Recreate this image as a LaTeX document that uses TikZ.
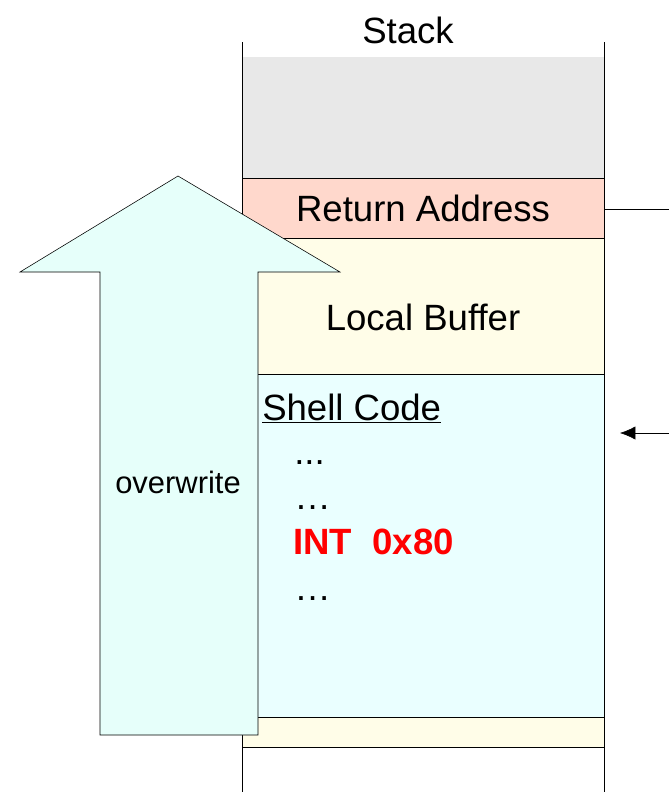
\documentclass[tikz,border=0pt]{standalone}
\usepackage{fontspec}
\setmainfont{Liberation Sans}
\usetikzlibrary{positioning, arrows.meta}
\definecolor{stackgray}{RGB}{232,232,232}
\definecolor{retpink}{RGB}{255,216,204}
\definecolor{bufyellow}{RGB}{255,253,232}
\definecolor{shellcyan}{RGB}{234,255,255}
\definecolor{arrowcyan}{RGB}{230,255,250}
\tikzset{
	x=0.025cm, y=-0.025cm,
	line width=1.6pt,
	>={Latex[length=11pt,width=9.5pt]},
	big/.style={font=\fontsize{26}{30}\selectfont},
	line/.style={big, inner sep=0pt, anchor=base west},
	slot/.style={draw, rectangle, inner sep=0pt, outer sep=0pt, minimum width=9.05cm, big}}

\begin{document}
\begin{tikzpicture}
		\useasboundingbox (0,0) rectangle (669,792);
		
		%Stack
		\node[big, anchor=base] (title) at (408,43) {Stack};
		\node[slot, draw=none, fill=stackgray, minimum height=3.025cm, anchor=north west] (top) at (242,57) {};
		\node[slot, fill=retpink, minimum height=1.5cm, below=0pt of top] (ret) {Return Address};
		\node[slot, fill=bufyellow, minimum height=3.4cm, below=0pt of ret] (buf) {};
		\node[slot, fill=shellcyan, minimum height=8.575cm, below=0pt of buf] (shell) {};
		\node[slot, fill=bufyellow, minimum height=0.75cm, below=0pt of shell] (pad) {};
		\draw (242,42) -- (242,792) (604,42) -- (604,792);
		
		%Texts
		\node[big] (buftext) at (423,317) {Local Buffer};
		\node[line] (shelltitle) at (262,420) {\underline{Shell Code}};
		\node[line] (dots1) at (294,464) {...};
		\node[line] (dots2) at (294,509) {…};
		\node[line, text=red, font=\fontsize{26}{30}\selectfont\bfseries] (intline) at (293,554) {INT\ \ 0x80};
		\node[line] (dots3) at (294,600) {…};
		
		%Right
		\coordinate (retout) at (669,209.5);
		\coordinate (spfrom) at (669,433);
		\coordinate (spto) at (620,433);
		\draw (ret.east |- retout) -- (retout);
		\draw[->] (spfrom) -- (spto);
		
		%Overwrite
		\draw[fill=arrowcyan] (100,735) -- (100,272) -- (20,272) -- (178,176) -- (340,272) -- (258,272) -- (258,735) -- cycle;
		\node[font=\fontsize{22}{26}\selectfont] (owlabel) at (178,482) {overwrite};
	\end{tikzpicture}
\end{document}
